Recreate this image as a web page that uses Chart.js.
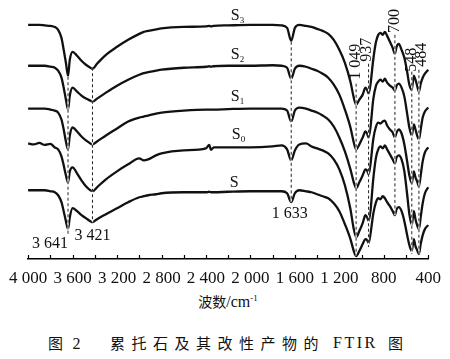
<!DOCTYPE html>
<html><head><meta charset="utf-8">
<script src="https://cdn.jsdelivr.net/npm/chart.js@4.4.1/dist/chart.umd.min.js"></script>
<style>
html,body{margin:0;padding:0;background:#fff;}
body{width:450px;height:359px;position:relative;overflow:hidden;}
#wrap{position:absolute;left:0;top:0;width:450px;height:290px;}
.t{position:absolute;white-space:nowrap;color:#111;line-height:18px;}
.cjk{font-family:'Noto Sans CJK SC',sans-serif;}
.ser{font-family:'Liberation Serif',serif;}
</style></head><body>
<div id="wrap"><canvas id="c"></canvas></div>
<div class="t" style="left:0;width:456px;text-align:center;top:292px;"><span class="cjk" style="font-size:14px;">波数</span><span class="ser" style="font-size:16px;">/cm</span><span class="ser" style="font-size:9px;position:relative;top:-6px;">-1</span></div>
<div class="t cjk" style="left:48px;top:334px;font-size:15px;letter-spacing:3px;">图 <span class="ser" style="font-size:16px;">2</span></div>
<div class="t cjk" style="left:110px;top:334px;font-size:15px;letter-spacing:6.5px;">累托石及其改性产物的</div>
<div class="t ser" style="left:333px;top:334px;font-size:16px;letter-spacing:2.5px;">FTIR</div>
<div class="t cjk" style="left:388px;top:334px;font-size:15px;">图</div>
<script>
// Wavenumber (cm-1) sample positions
const wavenumbers = [4000,3950,3900,3850,3800,3760,3730,3700,3680,3660,3641,3625,3600,3560,3520,3480,3440,3421,3380,3300,3200,3100,3000,2960,2920,2850,2800,2600,2400,2370,2355,2330,2200,2000,1800,1720,1670,1633,1600,1560,1500,1450,1400,1350,1300,1250,1200,1150,1100,1070,1049,1020,990,965,950,937,920,895,870,850,830,810,790,770,745,720,700,685,665,640,615,590,570,548,530,515,500,484,468,450,430,400];
// Transmittance (offset, a.u.)
const S3 = [235,235,235,234.5,234,233,230,222,210,197,184,200,208,204,199,195,192,191,196,205,213,220,226,228,229,230.5,231.5,233,233.5,234,233.5,234,234.5,235,235,234.5,232,219,232,235,234,233,231,229,226,220,210,197,178,162,155,160,165,172,170,166,175,200,218,225,227,225,228,224,218,212,206,213,216,210,202,188,175,170,184,180,174,168,176,182,186,190];
const S2 = [194,194,194,194,193,192,189,182,172,160,150,164,172,168,164,161,159,158,161,167,174,180,185,186.5,187.5,189,190,192,193,193.5,193,193.5,194,194,194.5,194,192,181,191,194,193,191,189,186,182,175,165,150,132,117,110,115,122,128,126,122,132,160,174,178,180,178,181,177,174,172,169,174,176,172,163,146,132,124,135,130,124,120,130,142,148,152];
const S1 = [151,151,151,151,150,149,147,140,130,118,110,124,132,128,123,119,116,115,118,124,131,138,142,143,144,146,147,149,150,150,150,150,150.5,151,151,151,149,138,149,152,151,149,147,144,140,133,122,108,90,77,71,77,84,90,89,85,95,120,133,137,136,138,139,134,130,127,122,127,130,126,115,98,84,76,88,82,78,73,84,98,107,112];
const S0 = [116,115,116.5,114.5,115.5,112,110,103,94,84,77,88,92,86,79,73,69,68,72,80,88,95,101,99,100,104,106,109,111,114.5,109.5,112,112,112,113,114,110,99,109,115,116,113,111,109,106,100,90,74,50,30,22,28,36,44,42,38,48,80,102,110,113,111,114,110,105,100,96,102,104,100,88,65,45,34,48,40,34,30,42,56,66,72];
const S_ = [69,69,69,69,68,67,64,57,48,38,30,42,51,48,44,41,38,37,40,45,51,57,62,63,64,65,66,67,67,67.5,67,67,67.5,68,68,68,66,57,66,69,68,67,65,63,61,56,48,35,20,8,3,8,15,20,19,16,25,45,57,61,60,63,61,57,53,48,44,50,52,48,38,24,14,8,20,13,9,5,15,24,30,34];
const seriesNames = ['S3','S2','S1','S0','S'];

// Characteristic bands
const peakWavenumbers = [3641,3421,1633,1049,937,700,548,484];
const peakLineTop = [183,192,218,176,196,225,188,190];
const peakLineBottom = [25,37,57,3,12,44,5,5];
const peakLabels = ['3 641','3 421','1 633','1 049','937','700','548','484'];
const peakLabelX = [3641,3421,1645,1049,950,700,548,455];
const peakLabelY = [15,23,45,198,210,239,200,205];
const peakLabelVertical = [false,false,false,true,true,true,true,true];
const peakLabelAlign = ['right','center','center','center','center','center','center','center'];

// Curve labels
const curveLabelMain = ['S','S','S','S','S'];
const curveLabelSub = ['3','2','1','0',''];
const curveLabelX = [2136,2136,2136,2127,2145];
const curveLabelY = [245.5,206,164.5,126,78];

function fmt(v){
  if (v >= 1000) return Math.floor(v/1000) + ' ' + String(v % 1000).padStart(3,'0');
  return String(v);
}

const series = [S3,S2,S1,S0,S_];
const datasets = [];
series.forEach((arr,i)=>{
  datasets.push({
    label: seriesNames[i],
    data: wavenumbers.map((w,j)=>({x:w,y:arr[j]})),
    borderColor:'#111', borderWidth:2.3, pointRadius:0, fill:false,
    cubicInterpolationMode:'monotone', order:2, clip:false
  });
});
peakWavenumbers.forEach((w,i)=>{
  datasets.push({
    label:'', data:[{x:w,y:peakLineTop[i]},{x:w,y:peakLineBottom[i]}],
    borderColor:'#fff', borderWidth:1.3, pointRadius:0, order:1, clip:false
  });
  datasets.push({
    label:'', data:[{x:w,y:peakLineTop[i]},{x:w,y:peakLineBottom[i]}],
    borderColor:'#222', borderWidth:1, borderDash:[3,2.5], pointRadius:0, order:0, clip:false
  });
});

const annot = {
  id:'annot',
  afterDatasetsDraw(chart){
    const {ctx, chartArea} = chart;
    const xs = chart.scales.x, ys = chart.scales.y;
    ctx.save();
    ctx.strokeStyle = '#000'; ctx.lineWidth = 1.2;
    for (const t of xs.ticks){
      const px = Math.round(xs.getPixelForValue(t.value)) + 0.5;
      ctx.beginPath(); ctx.moveTo(px, chartArea.bottom); ctx.lineTo(px, chartArea.bottom - 4); ctx.stroke();
    }
    ctx.fillStyle = '#111';
    curveLabelMain.forEach((m,i)=>{
      const px = xs.getPixelForValue(curveLabelX[i]);
      const py = ys.getPixelForValue(curveLabelY[i]);
      ctx.font = "16px 'Liberation Serif'";
      ctx.textAlign = 'center'; ctx.textBaseline = 'alphabetic';
      ctx.fillText(m, px, py + 5.5);
      if (curveLabelSub[i]){
        ctx.font = "9px 'Liberation Serif'";
        ctx.textAlign = 'left';
        ctx.fillText(curveLabelSub[i], px + 4.5, py + 8.5);
      }
    });
    ctx.font = "16px 'Liberation Serif'";
    ctx.textBaseline = 'middle';
    peakLabels.forEach((s,i)=>{
      const px = xs.getPixelForValue(peakLabelX[i]);
      const py = ys.getPixelForValue(peakLabelY[i]);
      if (peakLabelVertical[i]){
        ctx.save(); ctx.translate(px, py); ctx.rotate(-Math.PI/2);
        ctx.textAlign = 'center'; ctx.fillText(s, 0, 0); ctx.restore();
      } else {
        ctx.textAlign = peakLabelAlign[i];
        ctx.fillText(s, px, py);
      }
    });
    ctx.restore();
  }
};

new Chart(document.getElementById('c'), {
  type:'line',
  data:{datasets},
  options:{
    responsive:true, maintainAspectRatio:false, animation:false, devicePixelRatio:1,
    layout:{padding:{left:27.3, right:18, top:0, bottom:0}},
    plugins:{legend:{display:false}, tooltip:{enabled:false}, title:{display:false}},
    scales:{
      x:{
        type:'linear', reverse:true, min:400, max:4000,
        grid:{display:false, drawTicks:false},
        border:{display:true, color:'#000', width:1.5},
        ticks:{stepSize:200, autoSkip:false, maxRotation:0, padding:9, color:'#111',
          font:{family:"'Liberation Serif'", size:17},
          callback:(v)=> (v % 400 === 0 ? fmt(v) : '')},
        afterFit:(scale)=>{ scale.height = 31; }
      },
      y:{display:false, min:0, max:260}
    }
  },
  plugins:[annot]
});
</script>
</body></html>
